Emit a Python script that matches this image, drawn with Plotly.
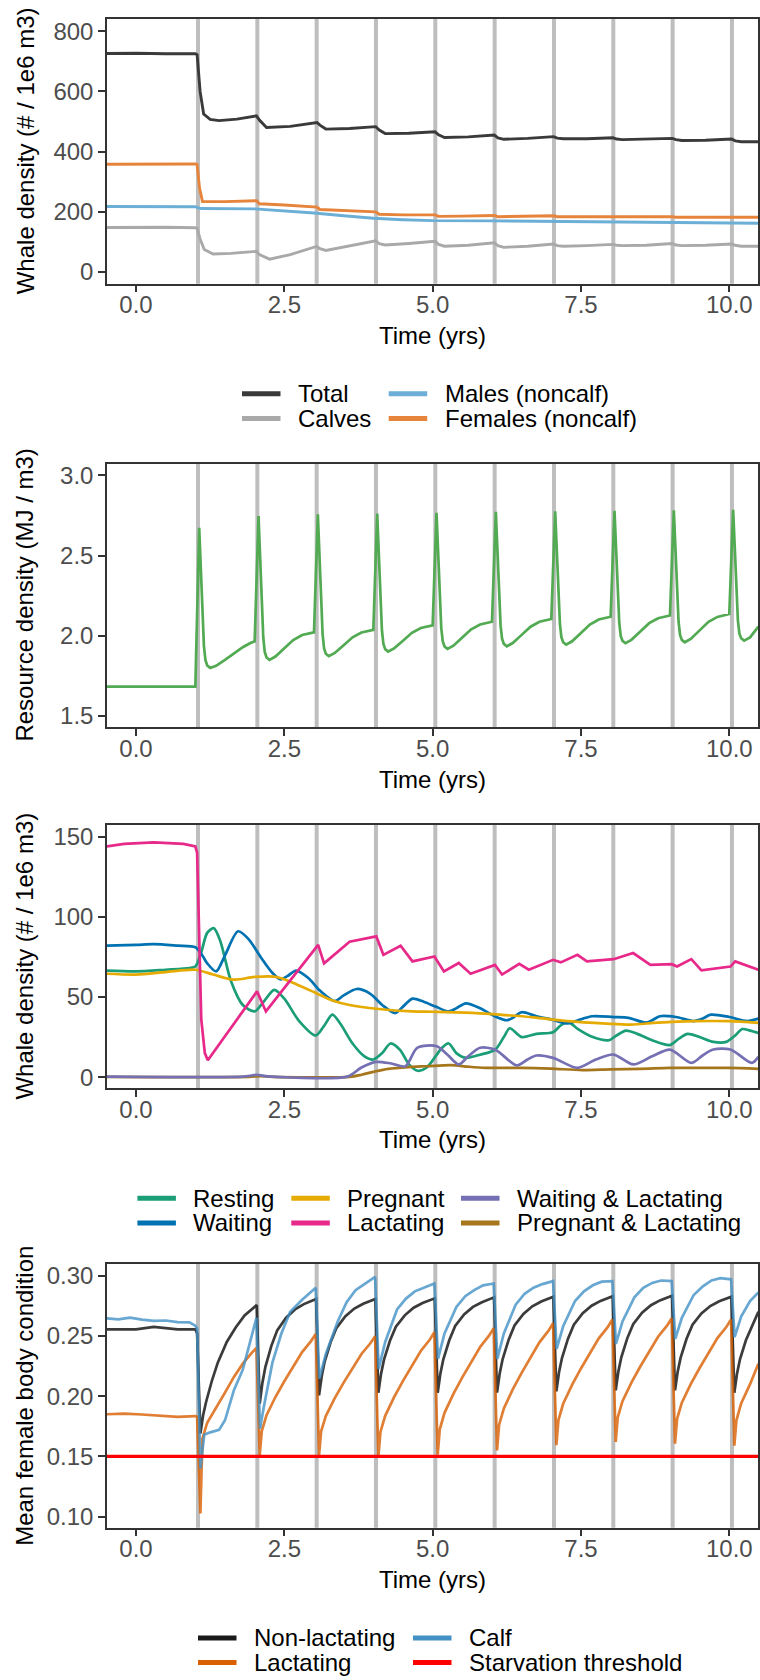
import plotly.graph_objects as go

W, H = 760, 1680
FONT = "Liberation Sans, Arial, Helvetica, sans-serif"

# ---------------------------------------------------------------- data
EVENT_TIMES = [1.045, 2.045, 3.045, 4.045, 5.045, 6.045, 7.045, 8.045, 9.045, 10.045]
X_RANGE = [-0.489, 10.489]
X_TICKS = [0, 2.5, 5, 7.5, 10]
X_TICKTEXT = ["0.0", "2.5", "5.0", "7.5", "10.0"]

# Panel 1: whale density by group (time, value)
TOTAL = [(-0.49, 726), (0.0, 727), (0.5, 725), (1.0, 725), (1.03, 722), (1.08, 600),
         (1.14, 525), (1.25, 507), (1.4, 503), (1.7, 508), (2.03, 519), (2.08, 505),
         (2.2, 480), (2.6, 484), (3.05, 497), (3.1, 488), (3.2, 475), (3.6, 477),
         (4.04, 483), (4.1, 472), (4.2, 460), (4.6, 461), (5.04, 466), (5.1, 456),
         (5.2, 447), (5.6, 449), (6.04, 455), (6.1, 446), (6.2, 441), (6.6, 444),
         (7.04, 450), (7.1, 445), (7.2, 443), (7.6, 443), (8.04, 446), (8.1, 442),
         (8.2, 440), (8.6, 441), (9.04, 444), (9.1, 440), (9.2, 437), (9.6, 438),
         (10.04, 442), (10.1, 436), (10.2, 433), (10.49, 433)]
CALVES = [(-0.49, 148), (0.5, 149), (1.0, 147), (1.03, 145), (1.08, 110), (1.15, 75),
          (1.3, 60), (1.6, 62), (2.03, 69), (2.08, 58), (2.25, 43), (2.6, 58),
          (3.04, 85), (3.1, 78), (3.2, 72), (3.6, 88), (4.04, 104), (4.1, 94),
          (4.2, 90), (4.6, 95), (5.04, 102), (5.1, 92), (5.2, 86), (5.6, 89),
          (6.04, 97), (6.1, 88), (6.2, 82), (6.6, 86), (7.04, 93), (7.1, 88),
          (7.2, 86), (7.6, 88), (8.04, 92), (8.1, 89), (8.2, 88), (8.6, 89),
          (9.04, 95), (9.1, 90), (9.2, 88), (9.6, 89), (10.04, 93), (10.1, 89),
          (10.2, 86), (10.49, 86)]
MALES = [(-0.49, 218), (0.5, 217), (1.0, 217), (1.05, 213), (1.1, 211), (2.0, 210),
         (2.5, 204), (3.0, 196), (3.5, 187), (4.0, 179), (4.5, 174), (5.0, 171),
         (6.0, 170), (7.0, 168), (8.0, 166), (9.0, 164), (10.49, 162)]
FEMALES = [(-0.49, 358), (0.5, 359), (1.0, 359), (1.03, 357), (1.07, 280), (1.12, 234),
           (1.5, 234), (2.03, 237), (2.08, 227), (2.5, 223), (3.05, 216), (3.1, 208),
           (3.5, 204), (4.04, 200), (4.1, 192), (4.5, 190), (5.04, 190), (5.1, 185),
           (5.5, 186), (6.04, 188), (6.1, 184), (7.04, 187), (7.1, 184), (8.04, 185),
           (8.1, 183), (9.04, 184), (9.1, 182), (10.04, 183), (10.1, 181), (10.49, 182)]

# Panel 2: resource density
RESOURCE = [(-0.49, 1.684), (0.5, 1.684), (1.0, 1.684),
            (1.065, 2.674), (1.09, 2.438), (1.12, 2.150), (1.145, 1.935), (1.17, 1.850), (1.2, 1.815), (1.25, 1.800),
            (1.35, 1.813), (1.5, 1.850), (1.65, 1.891), (1.8, 1.929), (1.92, 1.954), (2.0, 1.966),
            (2.065, 2.747), (2.09, 2.505), (2.12, 2.209), (2.145, 1.990), (2.17, 1.900), (2.2, 1.865), (2.25, 1.850),
            (2.35, 1.871), (2.5, 1.922), (2.65, 1.974), (2.8, 2.005), (2.92, 2.017), (3.0, 2.022),
            (3.065, 2.757), (3.09, 2.518), (3.12, 2.227), (3.145, 2.010), (3.17, 1.922), (3.2, 1.888), (3.25, 1.873),
            (3.35, 1.893), (3.5, 1.942), (3.65, 1.991), (3.8, 2.021), (3.92, 2.032), (4.0, 2.037),
            (4.065, 2.763), (4.09, 2.531), (4.12, 2.246), (4.145, 2.035), (4.17, 1.950), (4.2, 1.917), (4.25, 1.902),
            (4.35, 1.922), (4.5, 1.970), (4.65, 2.019), (4.8, 2.049), (4.92, 2.060), (5.0, 2.065),
            (5.065, 2.767), (5.09, 2.538), (5.12, 2.258), (5.145, 2.050), (5.17, 1.966), (5.2, 1.934), (5.25, 1.919),
            (5.35, 1.939), (5.5, 1.990), (5.65, 2.041), (5.8, 2.071), (5.92, 2.083), (6.0, 2.088),
            (6.065, 2.773), (6.09, 2.547), (6.12, 2.270), (6.145, 2.065), (6.17, 1.982), (6.2, 1.950), (6.25, 1.935),
            (6.35, 1.955), (6.5, 2.006), (6.65, 2.057), (6.8, 2.088), (6.92, 2.100), (7.0, 2.105),
            (7.065, 2.777), (7.09, 2.552), (7.12, 2.278), (7.145, 2.074), (7.17, 1.992), (7.2, 1.960), (7.25, 1.945),
            (7.35, 1.966), (7.5, 2.018), (7.65, 2.070), (7.8, 2.102), (7.92, 2.114), (8.0, 2.119),
            (8.065, 2.780), (8.09, 2.557), (8.12, 2.284), (8.145, 2.082), (8.17, 2.000), (8.2, 1.969), (8.25, 1.954),
            (8.35, 1.975), (8.5, 2.027), (8.65, 2.079), (8.8, 2.110), (8.92, 2.122), (9.0, 2.127),
            (9.065, 2.782), (9.09, 2.560), (9.12, 2.289), (9.145, 2.088), (9.17, 2.006), (9.2, 1.975), (9.25, 1.960),
            (9.35, 1.981), (9.5, 2.034), (9.65, 2.087), (9.8, 2.118), (9.92, 2.131), (10.0, 2.136),
            (10.065, 2.786), (10.09, 2.566), (10.12, 2.296), (10.145, 2.096), (10.17, 2.015), (10.2, 1.985), (10.25, 1.970),
            (10.35, 1.990), (10.49, 2.057)]

# Panel 3: female reproductive states
RESTING = [(-0.49, 66.5), (0.0, 66), (0.5, 67), (0.9, 68), (1.0, 69), (1.1, 78), (1.2, 90),
           (1.31, 93), (1.42, 85), (1.6, 60), (1.8, 45), (2.0, 41), (2.15, 47), (2.33, 54.5),
           (2.5, 49), (2.75, 35), (3.03, 26), (3.17, 32), (3.31, 39), (3.45, 33), (3.65, 21),
           (3.85, 13), (4.0, 11), (4.15, 15), (4.29, 21), (4.45, 17), (4.6, 8), (4.75, 4),
           (4.9, 6), (5.05, 13), (5.15, 18), (5.27, 21), (5.4, 15), (5.56, 12), (5.8, 14),
           (6.05, 17), (6.2, 25), (6.3, 30.5), (6.5, 25), (6.75, 27), (7.03, 28), (7.15, 32),
           (7.28, 34.5), (7.45, 30), (7.7, 25), (7.97, 23), (8.1, 26), (8.26, 29), (8.45, 27),
           (8.7, 23), (9.0, 20), (9.15, 24), (9.3, 27), (9.5, 25), (9.73, 22), (9.95, 22),
           (10.1, 26), (10.22, 30), (10.35, 29), (10.49, 27.5)]
WAITING = [(-0.49, 82), (0.0, 82.5), (0.3, 83), (0.7, 82), (1.0, 81), (1.1, 77), (1.2, 71),
           (1.35, 66), (1.5, 76), (1.72, 91), (1.9, 86), (2.1, 75), (2.3, 65), (2.44, 61),
           (2.55, 63), (2.7, 66.5), (2.9, 62), (3.1, 54), (3.35, 47.5), (3.5, 51), (3.72, 55),
           (3.95, 52), (4.15, 45), (4.37, 40), (4.5, 44), (4.66, 49), (4.85, 47), (5.05, 44),
           (5.27, 41), (5.4, 43), (5.56, 46), (5.8, 43), (6.05, 38), (6.25, 35.5), (6.35, 37),
           (6.5, 40.5), (6.75, 38), (7.0, 36), (7.28, 33.5), (7.45, 35.5), (7.69, 38),
           (8.05, 37.5), (8.3, 37), (8.59, 34), (8.7, 35.5), (8.83, 38), (9.1, 37.5), (9.4, 35),
           (9.55, 36.5), (9.69, 39), (10.0, 37.5), (10.3, 35), (10.49, 36.5)]
PREGNANT = [(-0.49, 64.5), (0.0, 64), (0.5, 65.5), (1.0, 67), (1.3, 64), (1.64, 60.8),
            (2.0, 62.5), (2.37, 62.5), (2.7, 58), (3.03, 52.5), (3.3, 48), (3.6, 45),
            (4.09, 42.5), (4.66, 41), (5.0, 40.8), (5.56, 40.3), (6.13, 39), (6.7, 37.3),
            (7.28, 34.9), (7.93, 33.4), (8.34, 32.8), (8.8, 34), (9.4, 34.9), (10.0, 34.9),
            (10.49, 33.8)]
LACTATING = [(-0.49, 144), (-0.2, 145.5), (0.3, 146.5), (0.8, 145.5), (1.0, 144), (1.03, 140),
             (1.1, 36), (1.16, 15), (1.21, 10.5), (2.04, 53.5), (2.19, 41), (3.07, 82.5),
             (3.17, 71), (3.6, 84.5), (4.05, 87.8), (4.17, 76.3), (4.46, 82), (4.66, 72.2),
             (5.03, 75.3), (5.19, 66), (5.44, 71.2), (5.64, 64.5), (6.05, 70), (6.17, 64),
             (6.46, 70.7), (6.62, 67), (7.03, 73.2), (7.16, 71.6), (7.44, 76.3), (7.6, 72.2),
             (8.05, 73.6), (8.38, 77.4), (8.67, 70), (9.03, 70.5), (9.12, 69), (9.36, 73.6),
             (9.53, 66.6), (10.02, 69), (10.1, 72.2), (10.49, 67)]
WAIT_LACT = [(-0.49, 0.3), (1.8, 0.3), (1.95, 1.0), (2.04, 1.5), (2.15, 0.8), (2.3, 0.3),
             (3.56, 0.3), (3.8, 6), (4.05, 9.5), (4.3, 8.5), (4.54, 6.8), (4.74, 18.3),
             (5.07, 19.3), (5.25, 14), (5.44, 7.9), (5.6, 13), (5.8, 18.3), (6.05, 17.2),
             (6.42, 7.3), (6.6, 11), (6.75, 13.5), (7.03, 12), (7.44, 5.8), (7.75, 11),
             (8.05, 14.1), (8.38, 7.9), (8.7, 13), (9.0, 17.2), (9.36, 8.9), (9.55, 13.5),
             (9.73, 17.2), (10.02, 17.2), (10.38, 8.9), (10.49, 12.7)]
PREG_LACT = [(-0.49, 0.2), (1.9, 0.2), (2.1, 0.6), (2.3, 0.2), (3.6, 0.2), (3.8, 1.5),
             (4.0, 3.3), (4.25, 5.2), (4.6, 6.3), (4.9, 6.8), (5.31, 7.5), (5.6, 6.5),
             (5.89, 5.8), (6.5, 5.8), (7.0, 5.3), (7.52, 4.4), (8.0, 4.9), (8.5, 5.2),
             (9.0, 5.8), (9.5, 5.8), (10.0, 5.8), (10.49, 5.2)]

# Panel 4: mean female body condition
NON_LACT = [(-0.49, 0.2555), (0.0, 0.2555), (0.3, 0.2575), (0.7, 0.2555), (1.0, 0.2555),
            (1.03, 0.252), (1.085, 0.169), (1.13, 0.184), (1.18, 0.195), (1.28, 0.213), (1.38, 0.228),
            (1.53, 0.245), (1.68, 0.257), (1.83, 0.267), (2.035, 0.2757),
            (2.085, 0.1938), (2.13, 0.2110), (2.18, 0.2242), (2.28, 0.2416), (2.38, 0.2546), (2.53, 0.2651),
            (2.68, 0.2720), (2.83, 0.2764), (3.035, 0.2807),
            (3.085, 0.2007), (3.13, 0.2165), (3.18, 0.2287), (3.28, 0.2447), (3.38, 0.2567), (3.53, 0.2663),
            (3.68, 0.2727), (3.83, 0.2767), (4.035, 0.2807),
            (4.085, 0.2029), (4.13, 0.2185), (4.18, 0.2303), (4.28, 0.2460), (4.38, 0.2577), (4.53, 0.2671),
            (4.68, 0.2734), (4.83, 0.2773), (5.035, 0.2812),
            (5.085, 0.2029), (5.13, 0.2187), (5.18, 0.2306), (5.28, 0.2464), (5.38, 0.2583), (5.53, 0.2678),
            (5.68, 0.2741), (5.83, 0.2780), (6.035, 0.2820),
            (6.085, 0.2029), (6.13, 0.2188), (6.18, 0.2308), (6.28, 0.2467), (6.38, 0.2587), (6.53, 0.2683),
            (6.68, 0.2746), (6.83, 0.2786), (7.035, 0.2826),
            (7.085, 0.2040), (7.13, 0.2198), (7.18, 0.2317), (7.28, 0.2475), (7.38, 0.2593), (7.53, 0.2688),
            (7.68, 0.2751), (7.83, 0.2791), (8.035, 0.2830),
            (8.085, 0.2048), (8.13, 0.2205), (8.18, 0.2323), (8.28, 0.2480), (8.38, 0.2598), (8.53, 0.2693),
            (8.68, 0.2755), (8.83, 0.2795), (9.035, 0.2834),
            (9.085, 0.2048), (9.13, 0.2203), (9.18, 0.2320), (9.28, 0.2476), (9.38, 0.2593), (9.53, 0.2686),
            (9.68, 0.2748), (9.83, 0.2787), (10.035, 0.2826),
            (10.085, 0.2029), (10.13, 0.2187), (10.18, 0.2306), (10.28, 0.2464), (10.38, 0.2583), (10.49, 0.2700)]
LACT = [(-0.49, 0.1850), (-0.2, 0.1855), (0.1, 0.1848), (0.4, 0.1835), (0.7, 0.1828),
        (1.0, 0.1835), (1.03, 0.1830), (1.085, 0.1027), (1.12, 0.165), (1.2, 0.178),
        (1.35, 0.190), (1.5, 0.203), (1.65, 0.216), (1.8, 0.227), (1.95, 0.236), (2.03, 0.240),
        (2.085, 0.151), (2.12, 0.1711), (2.2, 0.1842), (2.35, 0.1993), (2.5, 0.2124),
        (2.65, 0.2245), (2.8, 0.2366), (2.95, 0.2457), (3.03, 0.2517),
        (3.085, 0.151), (3.12, 0.1708), (3.2, 0.1836), (3.35, 0.1984), (3.5, 0.2113),
        (3.65, 0.2231), (3.8, 0.2350), (3.95, 0.2439), (4.03, 0.2498),
        (4.085, 0.1496), (4.12, 0.1703), (4.2, 0.1837), (4.35, 0.1992), (4.5, 0.2127),
        (4.65, 0.2251), (4.8, 0.2375), (4.95, 0.2468), (5.03, 0.2530),
        (5.085, 0.1515), (5.12, 0.1725), (5.2, 0.1862), (5.35, 0.2019), (5.5, 0.2156),
        (5.65, 0.2282), (5.8, 0.2408), (5.95, 0.2502), (6.03, 0.2565),
        (6.085, 0.1550), (6.12, 0.1761), (6.2, 0.1898), (6.35, 0.2056), (6.5, 0.2194),
        (6.65, 0.2320), (6.8, 0.2447), (6.95, 0.2542), (7.03, 0.2605),
        (7.085, 0.1593), (7.12, 0.1802), (7.2, 0.1937), (7.35, 0.2094), (7.5, 0.2230),
        (7.65, 0.2354), (7.8, 0.2480), (7.95, 0.2573), (8.03, 0.2636),
        (8.085, 0.1620), (8.12, 0.1825), (8.2, 0.1959), (8.35, 0.2113), (8.5, 0.2246),
        (8.65, 0.2370), (8.8, 0.2493), (8.95, 0.2585), (9.03, 0.2647),
        (9.085, 0.1606), (9.12, 0.1812), (9.2, 0.1946), (9.35, 0.2100), (9.5, 0.2234),
        (9.65, 0.2358), (9.8, 0.2482), (9.95, 0.2574), (10.03, 0.2636),
        (10.085, 0.1590), (10.12, 0.1800), (10.2, 0.1940), (10.35, 0.2100), (10.49, 0.2270)]
CALF = [(-0.49, 0.2645), (-0.3, 0.2638), (-0.1, 0.2652), (0.1, 0.2635), (0.3, 0.2625),
        (0.5, 0.2628), (0.7, 0.2615), (0.9, 0.2612), (1.0, 0.2585), (1.03, 0.2560),
        (1.085, 0.140), (1.15, 0.168), (1.25, 0.170), (1.4, 0.172), (1.5, 0.180),
        (1.65, 0.205), (1.8, 0.222), (1.95, 0.250), (2.03, 0.265),
        (2.09, 0.173), (2.15, 0.190), (2.3, 0.228), (2.45, 0.252), (2.6, 0.270), (2.8, 0.280), (3.03, 0.290),
        (3.09, 0.2145), (3.2, 0.235), (3.4, 0.262), (3.55, 0.278), (3.7, 0.288), (3.85, 0.293), (4.03, 0.299),
        (4.09, 0.2227), (4.2, 0.245), (4.4, 0.272), (4.55, 0.281), (4.7, 0.287), (4.85, 0.290), (5.03, 0.2935),
        (5.09, 0.231), (5.2, 0.252), (5.4, 0.274), (5.55, 0.283), (5.7, 0.288), (5.85, 0.292), (6.03, 0.2935),
        (6.09, 0.231), (6.2, 0.252), (6.4, 0.276), (6.55, 0.285), (6.7, 0.290), (6.85, 0.293), (7.03, 0.2955),
        (7.09, 0.2393), (7.2, 0.258), (7.4, 0.279), (7.55, 0.287), (7.7, 0.292), (7.85, 0.295), (8.03, 0.2955),
        (8.09, 0.2434), (8.2, 0.262), (8.4, 0.282), (8.55, 0.290), (8.7, 0.294), (8.85, 0.296), (9.03, 0.2955),
        (9.09, 0.2476), (9.2, 0.265), (9.4, 0.284), (9.55, 0.291), (9.7, 0.296), (9.85, 0.298), (10.03, 0.297),
        (10.09, 0.249), (10.2, 0.266), (10.35, 0.279), (10.49, 0.286)]
STARVATION = 0.15

# ---------------------------------------------------------------- layout helpers
X_LEFT, X_RIGHT = 107.0, 758.3
PANELS = [(17.0, 282.3), (463.0, 727.0), (825.0, 1088.7), (1265.0, 1529.3)]
Y_RANGES = [[-38.4, 840.8], [1.43, 3.072], [-6.85, 157.3], [0.0909, 0.3097]]
Y_TICKS = [[0, 200, 400, 600, 800], [1.5, 2.0, 2.5, 3.0], [0, 50, 100, 150],
           [0.10, 0.15, 0.20, 0.25, 0.30]]
Y_TICKTEXT = [["0", "200", "400", "600", "800"], ["1.5", "2.0", "2.5", "3.0"],
              ["0", "50", "100", "150"], ["0.10", "0.15", "0.20", "0.25", "0.30"]]
Y_TITLES = ["Whale density (# / 1e6 m3)", "Resource density (MJ / m3)",
            "Whale density (# / 1e6 m3)", "Mean female body condition"]


def px(x):
    return x / W


def py(y):
    return 1 - y / H


fig = go.Figure()


def add_line(series, panel, color, width, opacity=1.0, smooth=False):
    xs = [p[0] for p in series]
    ys = [p[1] for p in series]
    sfx = "" if panel == 1 else str(panel)
    line = dict(color=color, width=width)
    if smooth:
        line.update(shape="spline", smoothing=0.8)
    fig.add_trace(go.Scatter(x=xs, y=ys, mode="lines", xaxis="x" + sfx, yaxis="y" + sfx,
                             line=line, opacity=opacity, showlegend=False, hoverinfo="skip"))


# Panel 1
add_line(TOTAL, 1, "#3A3A3A", 2.9)
add_line(CALVES, 1, "#A9A9A9", 2.9)
add_line(MALES, 1, "#6BAED6", 2.9)
add_line(FEMALES, 1, "#E6843C", 2.9)
# Panel 2
add_line(RESOURCE, 2, "#52AA52", 2.7)
# Panel 3
add_line(RESTING, 3, "#1B9E77", 2.7, smooth=True)
add_line(WAITING, 3, "#0072B2", 2.7, smooth=True)
add_line(PREGNANT, 3, "#E6AB02", 2.7, smooth=True)
add_line(LACTATING, 3, "#E7298A", 2.7)
add_line(PREG_LACT, 3, "#A6761D", 2.7, smooth=True)
add_line(WAIT_LACT, 3, "#7570B3", 2.7, smooth=True)
# Panel 4
add_line(NON_LACT, 4, "#1A1A1A", 2.7, 0.85)
add_line(LACT, 4, "#D95F02", 2.7, 0.8)
add_line(CALF, 4, "#4292C6", 2.7, 0.8)
add_line([(X_RANGE[0], STARVATION), (X_RANGE[1], STARVATION)], 4, "#FF0000", 3.2)

layout = dict(width=W, height=H, margin=dict(l=0, r=0, t=0, b=0),
              paper_bgcolor="white", plot_bgcolor="white", showlegend=False,
              font=dict(family=FONT, size=24, color="black"))
shapes, annotations = [], []

for i, (top, bottom) in enumerate(PANELS, start=1):
    sfx = "" if i == 1 else str(i)
    axis_common = dict(showline=True, mirror=True, linecolor="#333333", linewidth=1.5,
                       ticks="outside", ticklen=7, tickwidth=2, tickcolor="#333333",
                       showgrid=False, zeroline=False,
                       tickfont=dict(family=FONT, size=24, color="#4D4D4D"))
    layout["xaxis" + sfx] = dict(domain=[px(X_LEFT), px(X_RIGHT)], range=X_RANGE,
                                 anchor="y" + sfx, tickvals=X_TICKS, ticktext=X_TICKTEXT,
                                 ticklabelstandoff=-8, **axis_common)
    layout["yaxis" + sfx] = dict(domain=[py(bottom), py(top)], range=Y_RANGES[i - 1],
                                 anchor="x" + sfx, tickvals=Y_TICKS[i - 1],
                                 ticktext=Y_TICKTEXT[i - 1], **axis_common)
    for t in EVENT_TIMES:
        shapes.append(dict(type="line", xref="x" + sfx, yref="y" + sfx + " domain",
                           x0=t, x1=t, y0=0, y1=1, layer="below",
                           line=dict(color="#BEBEBE", width=4)))
    annotations.append(dict(text="Time (yrs)", xref="paper", yref="paper",
                            x=px((X_LEFT + X_RIGHT) / 2), y=py(bottom + 52),
                            xanchor="center", yanchor="middle", showarrow=False,
                            font=dict(size=24, color="black")))
    annotations.append(dict(text=Y_TITLES[i - 1], xref="paper", yref="paper",
                            x=px(25), y=py((top + bottom) / 2), textangle=-90,
                            xanchor="center", yanchor="middle", showarrow=False,
                            font=dict(size=24, color="black")))

# Legend blocks drawn beneath panels 1, 3 and 4: (key x, row, label, colour)
LEGENDS = [
    (1, [(242, 0, "Total", "#3A3A3A"), (242, 1, "Calves", "#A9A9A9"),
         (388.7, 0, "Males (noncalf)", "#6BAED6"), (388.7, 1, "Females (noncalf)", "#E6843C")]),
    (3, [(137.4, 0, "Resting", "#1B9E77"), (137.4, 1, "Waiting", "#0072B2"),
         (291.3, 0, "Pregnant", "#E6AB02"), (291.3, 1, "Lactating", "#E7298A"),
         (461.0, 0, "Waiting & Lactating", "#7570B3"), (461.0, 1, "Pregnant & Lactating", "#A6761D")]),
    (4, [(198, 0, "Non-lactating", "#1A1A1A"), (198, 1, "Lactating", "#D95F02"),
         (413, 0, "Calf", "#4292C6"), (413, 1, "Starvation threshold", "#FF0000")]),
]
for panel, items in LEGENDS:
    bottom = PANELS[panel - 1][1]
    for kx, row, label, color in items:
        yy = bottom + 110.5 + row * 24.6
        shapes.append(dict(type="line", xref="paper", yref="paper",
                           x0=px(kx), x1=px(kx + 38.5), y0=py(yy), y1=py(yy),
                           line=dict(color=color, width=5)))
        annotations.append(dict(text=label, xref="paper", yref="paper",
                                x=px(kx + 54), y=py(yy), xanchor="left", yanchor="middle",
                                showarrow=False, font=dict(size=24, color="black")))

layout["shapes"] = shapes
layout["annotations"] = annotations
fig.update_layout(**layout)
fig.write_html("out.html")
